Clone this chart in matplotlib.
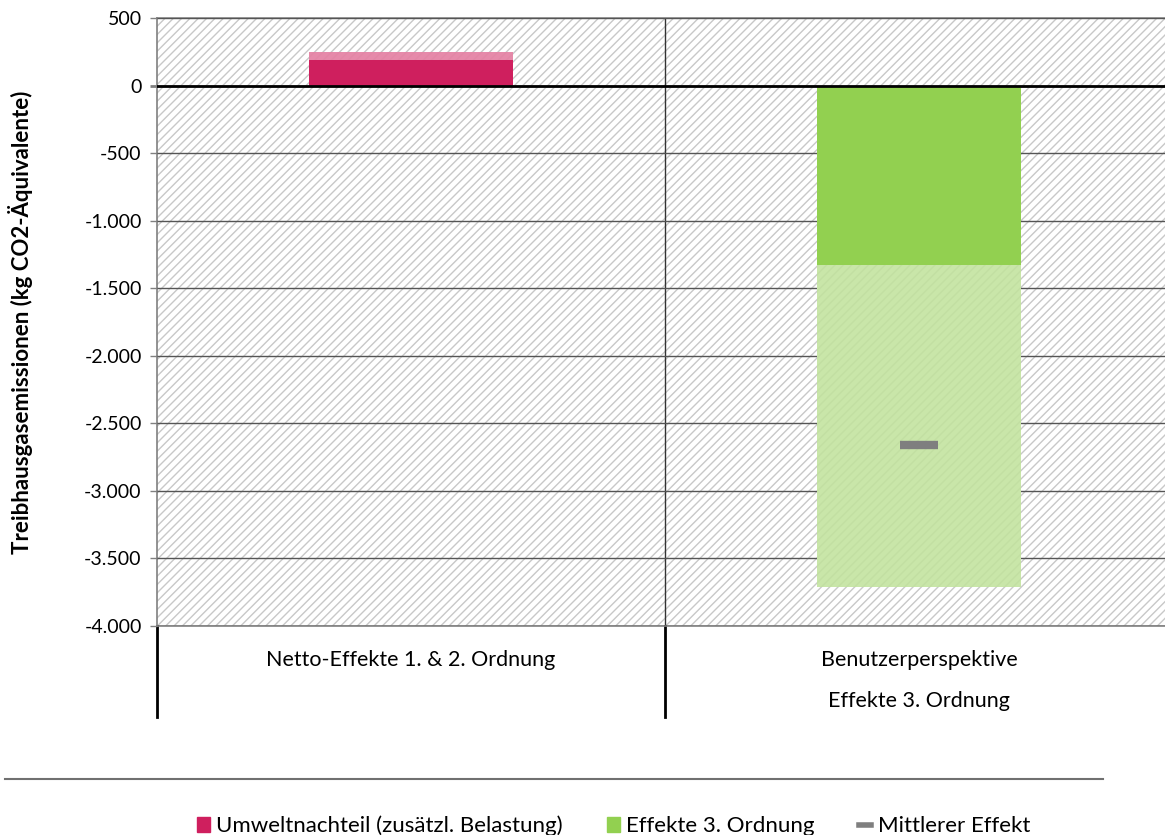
import matplotlib.pyplot as plt
from matplotlib.patches import Rectangle, Patch
from matplotlib.lines import Line2D
from matplotlib.ticker import FuncFormatter

plt.rcParams['font.family'] = ['Lato', 'DejaVu Sans']
plt.rcParams['axes.unicode_minus'] = False
plt.rcParams['hatch.linewidth'] = 1.0

# data
categories = ["Netto-Effekte 1. & 2. Ordnung", "Benutzerperspektive\nEffekte 3. Ordnung"]
base_values = [190, -1330]       # dark part of each bar
range_values = [60, -2380]       # light part (range) stacked on top
base_colors = ["#cf1f5e", "#92d050"]
range_colors = ["#e68aaa", "#c9e6a9"]
mean_cat = [1]
mean_values = [-2660]
y_ticks = [500, 0, -500, -1000, -1500, -2000, -2500, -3000, -3500, -4000]
legend_labels = ["Umweltnachteil (zusätzl. Belastung)", "Effekte 3. Ordnung", "Mittlerer Effekt"]
y_label = "Treibhausgasemissionen (kg CO2-Äquivalente)"

fig = plt.figure(figsize=(11.65, 8.35), dpi=100)
# plot area runs past the right border like in the original
ax = fig.add_axes([157 / 1165, 1 - 626 / 835, 1016 / 1165, 608 / 835])

# hatched background
ax.add_patch(Rectangle((0, 0), 1, 1, transform=ax.transAxes, facecolor='white',
                       edgecolor='#c8c8c8', hatch='////', lw=0, zorder=0))

x = list(range(len(categories)))
ax.bar(x, base_values, width=0.4, color=base_colors, lw=0, zorder=3)
light = ax.bar(x, range_values, bottom=base_values, width=0.4, color=range_colors,
               lw=0, hatch='////', zorder=3)
for b, c in zip(light, range_colors):
    b.set_edgecolor('#c2dfa2' if c == range_colors[1] else '#e287a6')
ax.plot(mean_cat, mean_values, ls='none', marker='_', ms=27, mew=6, color='#7f7f7f', zorder=4)

ax.set_xlim(-0.5, 1.5)
ax.set_ylim(min(y_ticks), max(y_ticks))
ax.set_yticks(y_ticks)
ax.yaxis.set_major_formatter(FuncFormatter(lambda v, p: '{:,.0f}'.format(v).replace(',', '.')))
ax.tick_params(axis='y', length=5, width=1, color='#808080', pad=6, labelsize=14)
ax.grid(axis='y', color='#555555', lw=1, zorder=1)
ax.set_axisbelow(False)
ax.axhline(0, color='black', lw=2, zorder=5)
ax.axvline(0.5, color='#333333', lw=1, zorder=2)
for t, v in zip(ax.yaxis.get_major_ticks(), y_ticks):
    if v == 0:
        t.tick1line.set_color('black')
        t.tick1line.set_markeredgewidth(2)

ax.set_xticks(x)
ax.set_xticklabels(categories, fontsize=15.5, linespacing=2.35, va='top')
ax.tick_params(axis='x', length=0, pad=17)

for s in ['left', 'bottom', 'top']:
    ax.spines[s].set_color('#808080')
    ax.spines[s].set_linewidth(1.2)
ax.spines['right'].set_visible(False)

# category separators below the axis
for xs in [0, 0.5]:
    ax.add_line(Line2D([xs, xs], [0, -0.15], transform=ax.transAxes, color='black',
                       lw=2, clip_on=False))

ax.set_ylabel(y_label, fontsize=16, fontweight='bold')
ax.yaxis.set_label_coords((33 - 157) / 1016, 0.5)

# line above the legend
fig.add_artist(Line2D([5 / 1165, 1103 / 1165], [1 - 779 / 835] * 2, color='#707070', lw=1.5))

handles = [Patch(color=base_colors[0]), Patch(color=base_colors[1]),
           Line2D([], [], color='#7f7f7f', lw=4)]
fig.legend(handles, legend_labels, loc='center', bbox_to_anchor=(614 / 1165, 1 - 826 / 835),
           ncol=3, frameon=False, fontsize=16, handlelength=0.55, handleheight=0.7,
           handletextpad=0.3, columnspacing=2.0)

fig.savefig('out.png', dpi=100)
